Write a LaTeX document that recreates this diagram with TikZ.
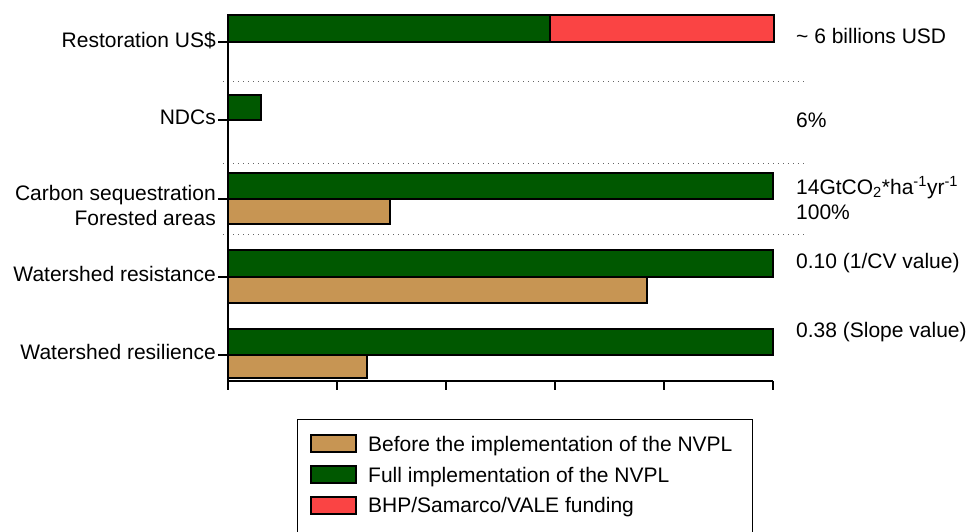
\documentclass[tikz,border=0pt]{standalone}
\usepackage{fontspec}
\setmainfont{Liberation Sans}
\definecolor{fullgreen}{RGB}{0,88,0}
\definecolor{beforetan}{RGB}{199,149,83}
\definecolor{fundred}{RGB}{250,68,68}
\begin{document}
\begin{tikzpicture}[x=1pt, y=-1pt,
	every node/.style={font=\fontsize{21}{25}\selectfont, inner sep=0pt},
	bar/.style={draw=black, line width=1.5pt},
	sep/.style={gray!80!black, line width=1pt, dash pattern=on 1pt off 4pt},
	axis/.style={line width=2.6pt}]
	\useasboundingbox (0,0) rectangle (971,531);
	
	% 分隔虚线
	\draw[sep] (223,81) -- (807,81);
	\draw[sep] (223,163) -- (807,163);
	\draw[sep] (223,234) -- (807,234);
	
	% ================= 条形 =================
	\draw[bar, fill=fullgreen] (228,15) rectangle (550,42);
	\draw[bar, fill=fundred] (550,15) rectangle (774,42);
	
	\draw[bar, fill=fullgreen] (228,95) rectangle (261,120);
	
	\draw[bar, fill=fullgreen] (228,173) rectangle (773,199);
	\draw[bar, fill=beforetan] (228,199) rectangle (390,224);
	
	\draw[bar, fill=fullgreen] (228,250) rectangle (773,277);
	\draw[bar, fill=beforetan] (228,277) rectangle (647,303);
	
	\draw[bar, fill=fullgreen] (228,329) rectangle (773,355);
	\draw[bar, fill=beforetan] (228,355) rectangle (367,378);
	
	% ================= 坐标轴 =================
	\draw[axis] (228,14) -- (228,381) -- (773,381);
	\foreach \x in {228,337,446,555,664,773}
		\draw[axis] (\x,381) -- (\x,390);
	\foreach \y in {42,120,199,277,355}
		\draw[axis] (218,\y) -- (228,\y);
	
	% 左侧标签
	\node[anchor=base east] (restor) at (216,47) {Restoration US\$};
	\node[anchor=base east] (ndcs) at (216,124) {NDCs};
	\node[anchor=base east] (carbon) at (216,200) {Carbon sequestration};
	\node[anchor=base east] (forest) at (216,225) {Forested areas};
	\node[anchor=base east] (resist) at (216,281) {Watershed resistance};
	\node[anchor=base east] (resil) at (216,359) {Watershed resilience};
	
	% 右侧数值
	\node[anchor=base west] (usd) at (796,43) {\textasciitilde\ 6 billions USD};
	\node[anchor=base west] (pct) at (796,127) {6\%};
	\node[anchor=base west] (gtco) at (796,194) {14GtCO\textsubscript{2}*ha\textsuperscript{-1}yr\textsuperscript{-1}};
	\node[anchor=base west] (full) at (796,219) {100\%};
	\node[anchor=base west] (cv) at (796,268) {0.10 (1/CV value)};
	\node[anchor=base west] (slope) at (796,337) {0.38 (Slope value)};
	
	% ================= 图例 =================
	\draw[line width=1pt] (297,419) rectangle (752,540);
	\draw[bar, fill=beforetan] (311,435) rectangle (356,452);
	\node[anchor=base west] (lgbefore) at (368,451) {Before the implementation of the NVPL};
	\draw[bar, fill=fullgreen] (311,466) rectangle (356,483);
	\node[anchor=base west] (lgfull) at (368,482) {Full implementation of the NVPL};
	\draw[bar, fill=fundred] (311,497) rectangle (356,514);
	\node[anchor=base west] (lgfund) at (368,512) {BHP/Samarco/VALE funding};
	
\end{tikzpicture}
\end{document}
